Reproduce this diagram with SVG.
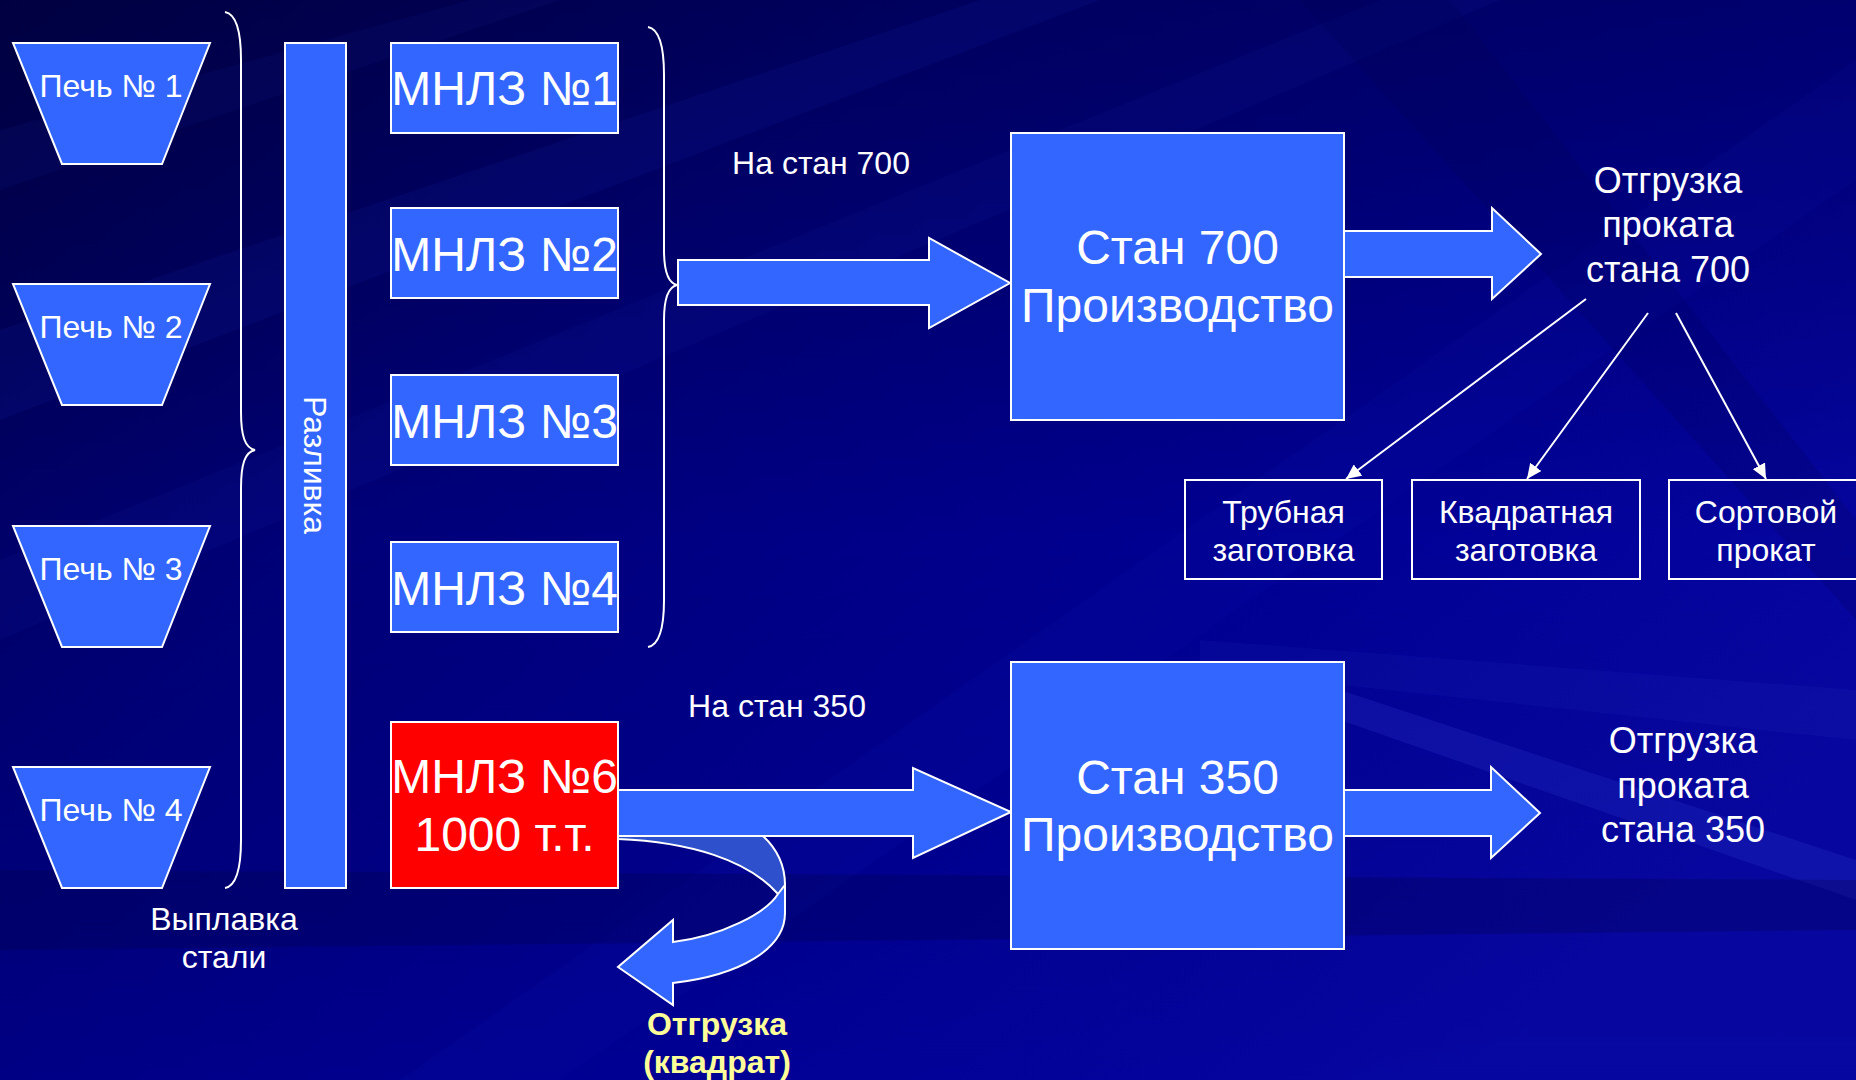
<svg xmlns="http://www.w3.org/2000/svg" width="1856" height="1080" viewBox="0 0 1856 1080">
  <defs>
    <linearGradient id="bg" x1="0" y1="0" x2="1" y2="0.7">
      <stop offset="0" stop-color="#00004A"/>
      <stop offset="0.35" stop-color="#000078"/>
      <stop offset="0.7" stop-color="#000094"/>
      <stop offset="1" stop-color="#0808A6"/>
    </linearGradient>
    <linearGradient id="bgv" x1="0" y1="0" x2="0" y2="1">
      <stop offset="0" stop-color="#000030" stop-opacity="0.35"/>
      <stop offset="0.5" stop-color="#000030" stop-opacity="0"/>
      <stop offset="1" stop-color="#000090" stop-opacity="0.2"/>
    </linearGradient>
    <marker id="ah" markerUnits="userSpaceOnUse" markerWidth="16" markerHeight="14" refX="15" refY="7" orient="auto">
      <path d="M0,0 L15,7 L0,14 z" fill="#FFFFFF"/>
    </marker>
    <style>
      .txt { font-family: "Liberation Sans", Arial, sans-serif; fill: #FFFFFF; text-anchor: middle; }
      .node { fill: #3366FF; stroke: #FFFFFF; stroke-width: 2; }
      .red { fill: #FF0000; stroke: #FFFFFF; stroke-width: 2; }
      .outline { fill: none; stroke: #FFFFFF; stroke-width: 2; }
      .brace { fill: none; stroke: #FFFFFF; stroke-width: 2; }
      .thin { fill: none; stroke: #FFFFFF; stroke-width: 2; }
      .big { font-size: 48px; }
      .mid { font-size: 36px; }
      .sm { font-size: 32px; }
      .yel { font-family: "Liberation Sans", Arial, sans-serif; font-weight: bold; font-size: 32px; fill: #FFFF99; text-anchor: middle; }
    </style>
  </defs>

  <!-- background -->
  <g id="background">
    <rect x="0" y="0" width="1856" height="1080" fill="url(#bg)"/>
    <rect x="0" y="0" width="1856" height="1080" fill="url(#bgv)"/>
    <polygon points="0,330 0,420 1100,0 980,0" fill="#2030C0" opacity="0.10"/>
    <polygon points="0,560 0,640 1500,0 1380,0" fill="#2030C0" opacity="0.08"/>
    <polygon points="0,130 0,190 560,0 470,0" fill="#2030C0" opacity="0.08"/>
    <polygon points="400,1080 560,1080 1856,180 1856,60" fill="#2030C0" opacity="0.07"/>
    <polygon points="1340,690 1856,860 1856,900 1340,720" fill="#3040D0" opacity="0.22"/>
    <polygon points="1200,640 1856,690 1856,740 1200,670" fill="#3040D0" opacity="0.10"/>
    <polygon points="0,870 1856,880 1856,930 0,950" fill="#000040" opacity="0.25"/>
    <polygon points="1300,0 1450,0 1856,520 1856,620" fill="#000050" opacity="0.18"/>
  </g>

  <!-- connectors -->
  <g id="connectors">
    <path class="brace" d="M225,12 C236,14 241,30 241,60 L241,412 C241,436 245,448 255,450 C245,452 241,464 241,488 L241,840 C241,870 236,886 225,888"/>
    <path class="brace" d="M648,27 C659,29 664,45 664,75 L664,250 C664,272 668,283 677,285 C668,287 664,298 664,320 L664,600 C664,630 659,645 648,647"/>
    <polygon class="node" points="678,260 929,260 929,238 1010,283 929,328 929,305 678,305"/>
    <polygon class="node" points="1344,231 1492,231 1492,208 1541,254 1492,299 1492,277 1344,277"/>
    <polygon class="node" points="618,790 913,790 913,768 1011,812 913,858 913,836 618,836"/>
    <polygon class="node" points="1344,790 1491,790 1491,767 1540,813 1491,858 1491,836 1344,836"/>
    <path d="M618,839 C690,842 748,860 778,894 L785,894 L785,885 C785,866 777,849 763,836 L618,836 Z" fill="#2E50CC" stroke="#FFFFFF" stroke-width="2"/>
    <path class="node" d="M778,894 C766,913 722,936 673,942 L673,920 L618,967 L673,1005 L673,983 C742,975 785,948 785,913 L785,885 Z"/>
    <line class="thin" x1="1586" y1="299" x2="1346" y2="479" marker-end="url(#ah)"/>
    <line class="thin" x1="1648" y1="313" x2="1527" y2="479" marker-end="url(#ah)"/>
    <line class="thin" x1="1676" y1="313" x2="1766" y2="479" marker-end="url(#ah)"/>
  </g>

  <!-- furnaces -->
  <g id="pech1">
    <polygon class="node" points="13,43 210,43 162,164 62,164"/>
    <text class="txt sm" x="111" y="97">Печь № 1</text>
  </g>
  <g id="pech2">
    <polygon class="node" points="13,284 210,284 162,405 62,405"/>
    <text class="txt sm" x="111" y="338">Печь № 2</text>
  </g>
  <g id="pech3">
    <polygon class="node" points="13,526 210,526 162,647 62,647"/>
    <text class="txt sm" x="111" y="580">Печь № 3</text>
  </g>
  <g id="pech4">
    <polygon class="node" points="13,767 210,767 162,888 62,888"/>
    <text class="txt sm" x="111" y="821">Печь № 4</text>
  </g>

  <g id="vyplavka">
    <text class="txt sm" x="224" y="930">Выплавка</text>
    <text class="txt sm" x="224" y="968">стали</text>
  </g>

  <g id="razlivka">
    <rect class="node" x="285" y="43" width="61" height="845"/>
    <text class="txt sm" transform="translate(304,465) rotate(90)">Разливка</text>
  </g>

  <!-- MNLZ -->
  <g id="mnlz1">
    <rect class="node" x="391" y="43" width="227" height="90"/>
    <text class="txt big" x="504.5" y="105">МНЛЗ №1</text>
  </g>
  <g id="mnlz2">
    <rect class="node" x="391" y="208" width="227" height="90"/>
    <text class="txt big" x="504.5" y="271">МНЛЗ №2</text>
  </g>
  <g id="mnlz3">
    <rect class="node" x="391" y="375" width="227" height="90"/>
    <text class="txt big" x="504.5" y="438">МНЛЗ №3</text>
  </g>
  <g id="mnlz4">
    <rect class="node" x="391" y="542" width="227" height="90"/>
    <text class="txt big" x="504.5" y="605">МНЛЗ №4</text>
  </g>
  <g id="mnlz6">
    <rect class="red" x="391" y="722" width="227" height="166"/>
    <text class="txt big" x="504.5" y="793">МНЛЗ №6</text>
    <text class="txt big" x="504.5" y="851">1000 т.т.</text>
  </g>

  <g id="label700">
    <text class="txt sm" x="821" y="174">На стан 700</text>
  </g>
  <g id="label350">
    <text class="txt sm" x="777" y="717">На стан 350</text>
  </g>

  <g id="stan700">
    <rect class="node" x="1011" y="133" width="333" height="287"/>
    <text class="txt big" x="1177.5" y="264">Стан 700</text>
    <text class="txt big" x="1177.5" y="322">Производство</text>
  </g>
  <g id="stan350">
    <rect class="node" x="1011" y="662" width="333" height="287"/>
    <text class="txt big" x="1177.5" y="794">Стан 350</text>
    <text class="txt big" x="1177.5" y="851">Производство</text>
  </g>

  <g id="otgruzka700">
    <text class="txt mid" x="1668" y="193">Отгрузка</text>
    <text class="txt mid" x="1668" y="237">проката</text>
    <text class="txt mid" x="1668" y="282">стана 700</text>
  </g>
  <g id="otgruzka350">
    <text class="txt mid" x="1683" y="753">Отгрузка</text>
    <text class="txt mid" x="1683" y="798">проката</text>
    <text class="txt mid" x="1683" y="842">стана 350</text>
  </g>

  <g id="trubnaya">
    <rect class="outline" x="1185" y="480" width="197" height="99"/>
    <text class="txt sm" x="1283.5" y="523">Трубная</text>
    <text class="txt sm" x="1283.5" y="561">заготовка</text>
  </g>
  <g id="kvadratnaya">
    <rect class="outline" x="1412" y="480" width="228" height="99"/>
    <text class="txt sm" x="1526" y="523">Квадратная</text>
    <text class="txt sm" x="1526" y="561">заготовка</text>
  </g>
  <g id="sortovoy">
    <rect class="outline" x="1669" y="480" width="195" height="99"/>
    <text class="txt sm" x="1766" y="523">Сортовой</text>
    <text class="txt sm" x="1766" y="561">прокат</text>
  </g>

  <g id="otgruzka-kvadrat">
    <text class="yel" x="717" y="1035">Отгрузка</text>
    <text class="yel" x="717" y="1073">(квадрат)</text>
  </g>
</svg>
